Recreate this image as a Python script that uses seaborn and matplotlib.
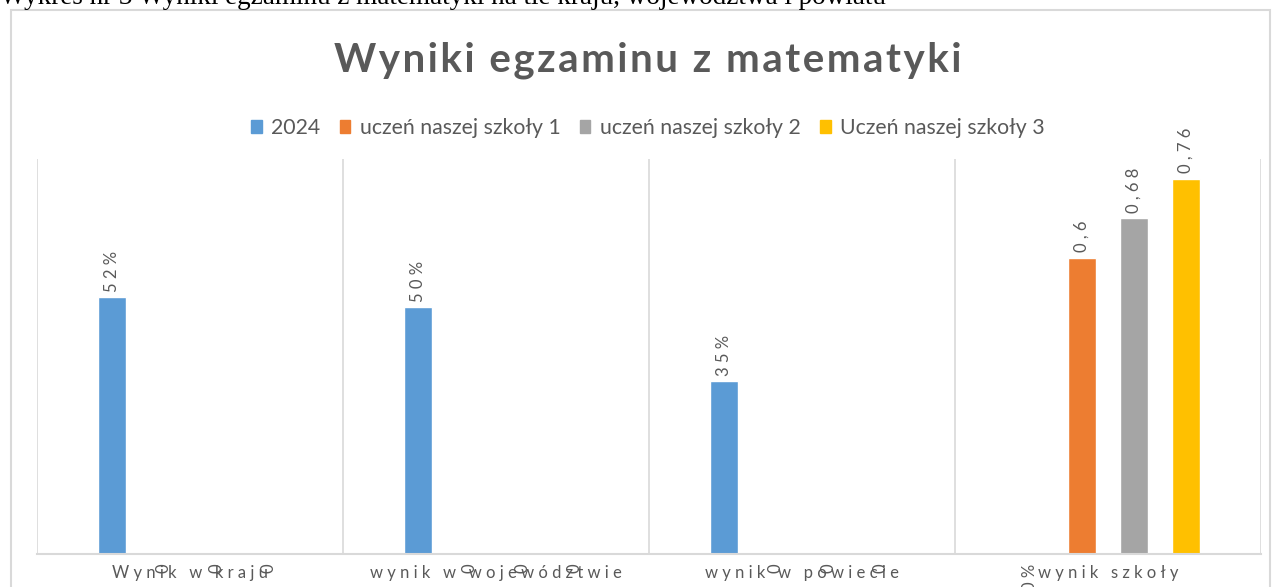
import matplotlib
matplotlib.use("Agg")
import matplotlib.pyplot as plt
import matplotlib.patches as mpatches
import seaborn as sns
import pandas as pd

# ---------- data ----------
categories = ["Wynik w kraju", "wynik w województwie", "wynik w powiecie", "wynik szkoły"]
series = ["2024", "uczeń naszej szkoły 1", "uczeń naszej szkoły 2", "Uczeń naszej szkoły 3"]
wyniki_2024 = [0.52, 0.50, 0.35, 0.0]
uczen_1 = [0.0, 0.0, 0.0, 0.60]
uczen_2 = [0.0, 0.0, 0.0, 0.68]
uczen_3 = [0.0, 0.0, 0.0, 0.76]
colors = ["#5B9BD5", "#ED7D31", "#A5A5A5", "#FFC000"]

TITLE = "Wyniki egzaminu z matematyki"
CAPTION = "Wykres nr 3 Wyniki egzaminu z matematyki na tle kraju, województwa i powiatu"
TXT = "#595959"
GRID = "#D9D9D9"

W, H = 1273, 587

def spaced(s, sep="\u200a"):
    # poor man's letter spacing
    return sep.join(s)

def fmt_pct(v):
    return f"{round(v * 100):.0f}%"

def fmt_gen(v):
    if v == 0:
        return "0"
    return f"{v:g}".replace(".", ",")

rows = []
for name, vals in zip(series, [wyniki_2024, uczen_1, uczen_2, uczen_3]):
    for cat, v in zip(categories, vals):
        rows.append({"kategoria": cat, "seria": name, "wynik": v})
df = pd.DataFrame(rows)

# ---------- plot ----------
sns.set_theme(style="white")
plt.rcParams["font.family"] = ["Lato", "DejaVu Sans"]

fig = plt.figure(figsize=(W / 100, H / 100), dpi=100)
ax = fig.add_axes([37 / W, 1 - 554 / H, (1261 - 37) / W, (554 - 159) / H])

sns.barplot(data=df, x="kategoria", y="wynik", hue="seria", order=categories,
            hue_order=series, palette=colors, width=0.68, gap=0.46,
            saturation=1, ax=ax, legend=False, errorbar=None)

ax.set_ylim(0, 0.8)
ax.set_xlim(-0.5, len(categories) - 0.5)
ax.set_yticks([])
ax.set_xlabel("")
ax.set_ylabel("")
for sp in ["top", "left", "right"]:
    ax.spines[sp].set_visible(False)
ax.spines["bottom"].set_color(GRID)
ax.spines["bottom"].set_linewidth(1.5)

# vertical separators between categories
for xb in [i - 0.5 for i in range(len(categories) + 1)]:
    ax.axvline(xb, color=GRID, lw=1.2, zorder=0)

ax.set_xticks(range(len(categories)))
ax.set_xticklabels([spaced(c, "\u2009\u2009") for c in categories], color=TXT, fontsize=12)
ax.tick_params(axis="x", length=0, pad=8)

# data labels
for si, cont in enumerate(ax.containers):
    vals = [wyniki_2024, uczen_1, uczen_2, uczen_3][si]
    fmt = fmt_pct if si == 0 else fmt_gen
    for bar, v in zip(cont.patches, vals):
        xc = bar.get_x() + bar.get_width() / 2
        lab = spaced(fmt(v), "\u2009\u2009")
        if v > 0:
            ax.annotate(lab, (xc, v), xytext=(0, 4), textcoords="offset points",
                        rotation=90, ha="center", va="bottom", color=TXT, fontsize=12)
        else:
            ax.annotate(lab, (xc, 0), xytext=(0, -7), textcoords="offset points",
                        rotation=90, ha="center", va="top", color=TXT, fontsize=12,
                        annotation_clip=False)

# legend
handles = [mpatches.Patch(color=c, label=s) for c, s in zip(colors, series)]
fig.legend(handles=handles, loc="center", bbox_to_anchor=(648 / W, 1 - 128 / H),
           ncol=4, frameon=False, fontsize=15.3, labelcolor=TXT,
           handlelength=0.5, handleheight=0.5, handletextpad=0.45,
           columnspacing=0.9, borderaxespad=0)

# title
fig.text(648 / W, 1 - 60 / H, spaced(TITLE, "\u200a"), ha="center", va="center",
         fontsize=29, fontweight="bold", color=TXT)

# chart frame
fig.patches.append(mpatches.Rectangle((11 / W, -0.05), (1270 - 11) / W, 1 - 10 / H + 0.05,
                                      transform=fig.transFigure, fill=False,
                                      edgecolor=GRID, lw=1.5))

# caption above chart (cut off at top)
fig.text(0 / W, 1 - 4 / H, CAPTION, ha="left", va="baseline", fontsize=19.5,
         family=["Liberation Serif", "DejaVu Serif"], color="black")

fig.savefig("out.png", dpi=100)
